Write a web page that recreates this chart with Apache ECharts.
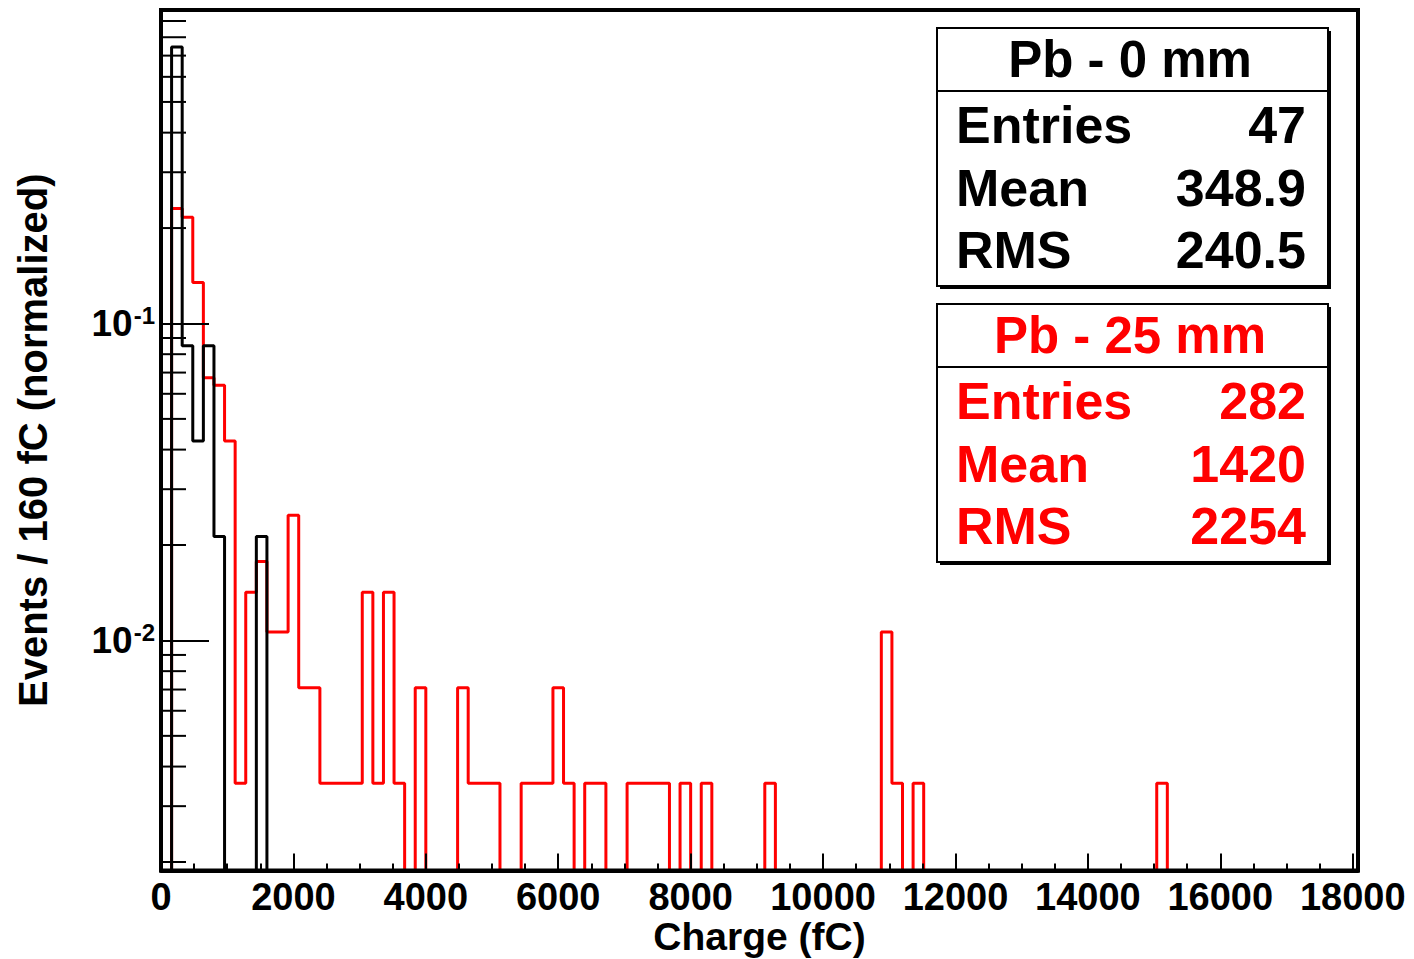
<!DOCTYPE html>
<html>
<head>
<meta charset="utf-8">
<script src="https://cdn.jsdelivr.net/npm/echarts@6/dist/echarts.min.js"></script>
<style>
html,body{margin:0;padding:0;background:#fff;}
#chart{width:1414px;height:959px;}
</style>
</head>
<body>
<div id="chart"></div>
<script>
// ---- data ----
const BIN_WIDTH = 160;          // fC per bin
const X_MAX = 18080;            // histogram upper edge (113 bins)
const EMPTY = 1e-6;             // empty bin: below the axis floor (clipped, like ROOT log scale)

const entriesBlack = 47;
const countsBlack = [0, 35, 4, 2, 4, 1, 0, 0, 0, 1, 0];

const entriesRed = 282;
const countsRed = [
  0, 65, 61, 38, 19, 18, 12, 1, 4, 5,
  3, 3, 7, 2, 2, 1, 1, 1, 1, 4,
  1, 4, 1, 0, 2, 0, 0, 0, 2, 1,
  1, 1, 0, 0, 1, 1, 1, 2, 1, 0,
  1, 1, 0, 0, 1, 1, 1, 1, 0, 1,
  0, 1, 0, 0, 0, 0, 0, 1, 0, 0,
  0, 0, 0, 0, 0, 0, 0, 0, 3, 1,
  0, 1, 0, 0, 0, 0, 0, 0, 0, 0,
  0, 0, 0, 0, 0, 0, 0, 0, 0, 0,
  0, 0, 0, 0, 1, 0
];

const xTickStep = 2000;
const yMin = 0.00188;
const yMax = 0.975;
const yMinorTicks = [0.002, 0.003, 0.004, 0.005, 0.006, 0.007, 0.008, 0.009,
                     0.02, 0.03, 0.04, 0.05, 0.06, 0.07, 0.08, 0.09,
                     0.2, 0.3, 0.4, 0.5, 0.6, 0.7, 0.8, 0.9];

const statLabels = ['Entries', 'Mean', 'RMS'];
const titleBlack = 'Pb - 0 mm';
const statValuesBlack = ['47', '348.9', '240.5'];
const titleRed = 'Pb - 25 mm';
const statValuesRed = ['282', '1420', '2254'];

// ---- build ----
const FONT = 'Liberation Sans, Arial, Helvetica, sans-serif';

function histPoints(counts, entries) {
  const pts = counts.map((c, k) => [k * BIN_WIDTH, c > 0 ? c / entries : EMPTY]);
  pts.push([counts.length * BIN_WIDTH, EMPTY]);
  return pts;
}

function statBox(top, title, values, color) {
  const left = 937, width = 391, height = 258;
  const els = [];
  els.push({type: 'rect', z: 100, shape: {x: left + 3, y: top + 3, width: width, height: height},
            style: {fill: '#000'}});
  els.push({type: 'rect', z: 101, shape: {x: left, y: top, width: width, height: height},
            style: {fill: '#fff', stroke: '#000', lineWidth: 2}});
  els.push({type: 'line', z: 102, shape: {x1: left, y1: top + 63, x2: left + width, y2: top + 63},
            style: {stroke: '#000', lineWidth: 2}});
  els.push({type: 'text', z: 103, x: left + 193, y: top + 31,
            style: {text: title, fill: color, font: 'bold 51px ' + FONT, textAlign: 'center', textVerticalAlign: 'middle'}});
  const rowY = [97, 160, 222];
  statLabels.forEach((lab, i) => {
    els.push({type: 'text', z: 103, x: left + 19, y: top + rowY[i],
              style: {text: lab, fill: color, font: 'bold 52px ' + FONT, textAlign: 'left', textVerticalAlign: 'middle'}});
    els.push({type: 'text', z: 103, x: left + 369, y: top + rowY[i],
              style: {text: values[i], fill: color, font: 'bold 52px ' + FONT, textAlign: 'right', textVerticalAlign: 'middle'}});
  });
  return els;
}

const chart = echarts.init(document.getElementById('chart'), null, {renderer: 'svg'});
chart.setOption({
  animation: false,
  backgroundColor: '#fff',
  grid: {left: 161, top: 10, width: 1197, height: 860.5, show: true, borderColor: '#000', borderWidth: 4,
         backgroundColor: 'transparent', z: 5, containLabel: false, outerBoundsMode: 'none'},
  xAxis: {
    type: 'value', min: 0, max: X_MAX, interval: xTickStep, z: 6,
    name: 'Charge (fC)', nameLocation: 'middle', nameGap: 46, nameMoveOverlap: false,
    nameTextStyle: {fontFamily: FONT, fontWeight: 'bold', fontSize: 39, color: '#000', lineHeight: 40},
    axisLine: {show: true, onZero: false, lineStyle: {color: '#000', width: 4}},
    axisTick: {show: true, inside: true, length: 17, lineStyle: {color: '#000', width: 2}},
    minorTick: {show: true, splitNumber: 4, length: 7, lineStyle: {color: '#000', width: 2}},
    splitLine: {show: false},
    axisLabel: {margin: 7, fontFamily: FONT, fontWeight: 'bold', fontSize: 38, lineHeight: 38, color: '#000',
                formatter: v => (v % xTickStep === 0 ? String(v) : '')}
  },
  yAxis: {
    type: 'log', logBase: 10, min: yMin, max: yMax, z: 6,
    name: 'Events / 160 fC (normalized)', nameLocation: 'middle', nameGap: 108, nameRotate: 90,
    nameMoveOverlap: false,
    nameTextStyle: {fontFamily: FONT, fontWeight: 'bold', fontSize: 40, color: '#000'},
    axisLine: {show: true, lineStyle: {color: '#000', width: 4}},
    axisTick: {show: true, inside: true, length: 48, lineStyle: {color: '#000', width: 2}},
    splitLine: {show: false},
    axisLabel: {
      margin: 6, fontFamily: FONT, fontWeight: 'bold', fontSize: 37, color: '#000',
      formatter: v => {
        const l = Math.log10(v), e = Math.round(l);
        if (Math.abs(l - e) > 1e-6) return '';
        return '{b|10}{s|' + e + '}';
      },
      rich: {
        b: {fontFamily: FONT, fontWeight: 'bold', fontSize: 37, color: '#000', lineHeight: 40},
        s: {fontFamily: FONT, fontWeight: 'bold', fontSize: 24, color: '#000', lineHeight: 24, verticalAlign: 'top', padding: [0, 0, 0, 1]}
      }
    }
  },
  series: [
    {
      type: 'line', name: 'Pb - 25 mm', step: 'end', showSymbol: false, symbol: 'none', clip: true, z: 2,
      lineStyle: {color: '#ff0000', width: 3}, data: histPoints(countsRed, entriesRed)
    },
    {
      type: 'line', name: 'Pb - 0 mm', step: 'end', showSymbol: false, symbol: 'none', clip: true, z: 3,
      lineStyle: {color: '#000000', width: 3}, data: histPoints(countsBlack, entriesBlack)
    },
    {
      type: 'custom', z: 7, silent: true,
      data: yMinorTicks.map(v => [0, v]),
      renderItem: (params, api) => {
        const p = api.coord([api.value(0), api.value(1)]);
        return {type: 'line', shape: {x1: p[0], y1: p[1], x2: p[0] + 25, y2: p[1]},
                style: {stroke: '#000', lineWidth: 2}};
      }
    }
  ],
  graphic: {elements: [].concat(statBox(28, titleBlack, statValuesBlack, '#000'),
                                statBox(304, titleRed, statValuesRed, '#ff0000'))}
});
</script>
</body>
</html>
